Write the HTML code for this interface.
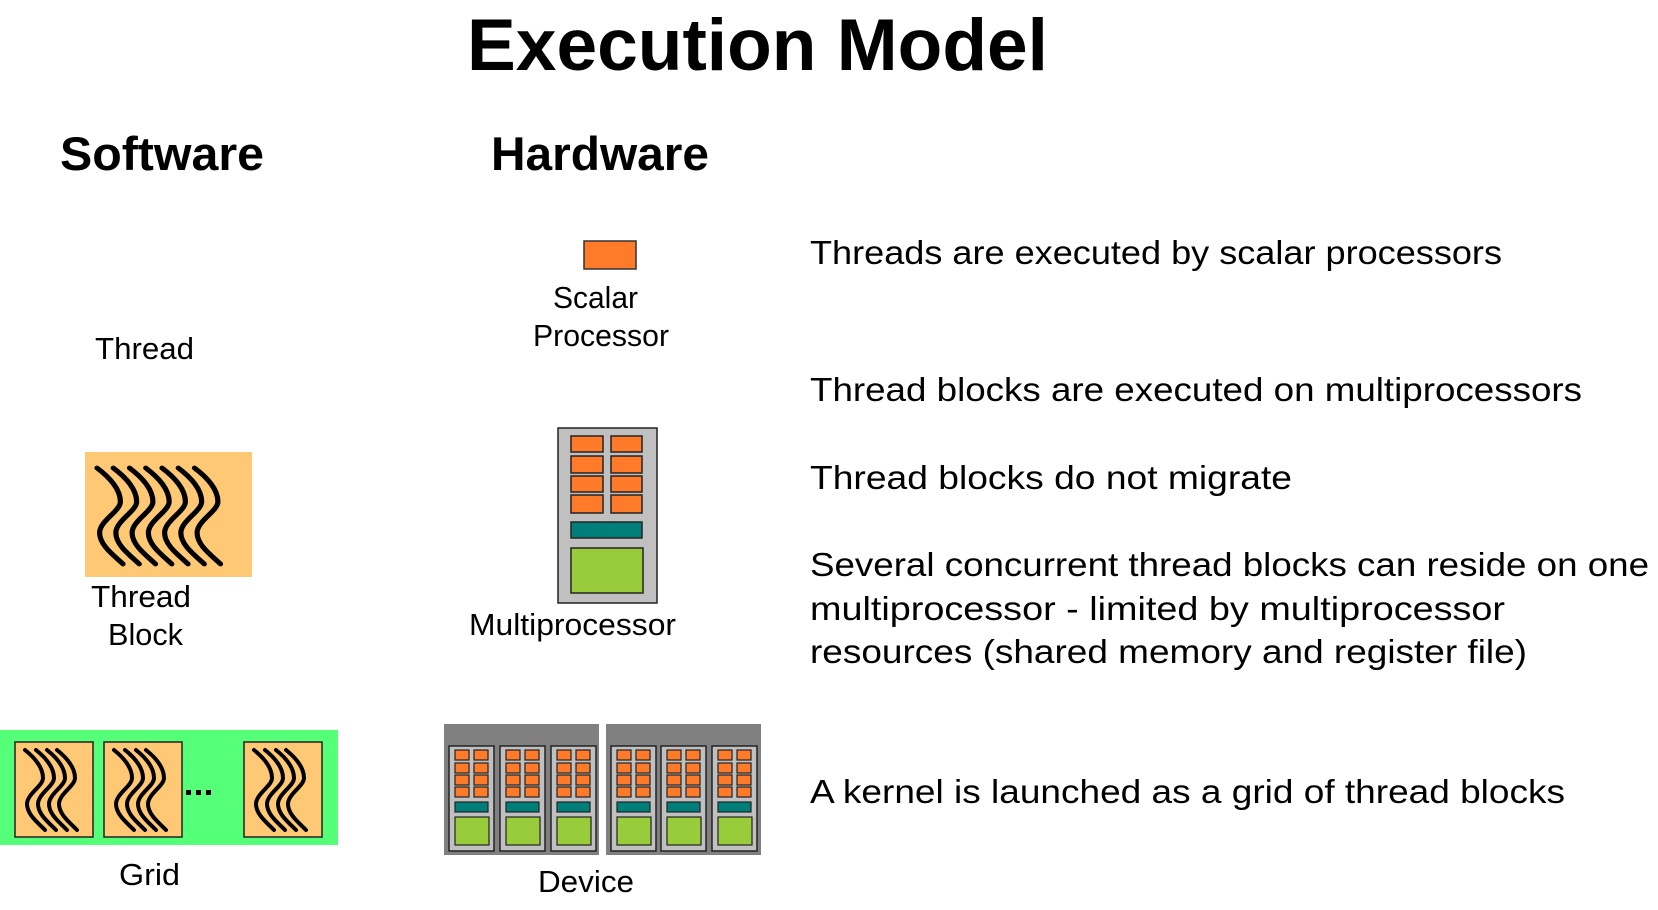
<!DOCTYPE html>
<html><head><meta charset="utf-8"><style>
html,body{margin:0;padding:0;background:#fff;}
svg{display:block;}
text{font-family:"Liberation Sans",sans-serif;fill:#000;}
.b{font-size:33px;}
.l{font-size:31px;}
</style></head><body>
<svg width="1658" height="910" viewBox="0 0 1658 910" xmlns="http://www.w3.org/2000/svg">
<defs>
<path id="w" d="M0,0 C10,8 18,18 18,28 C18,36 2,44 2,54 C2,64 12,72 20,80" fill="none" stroke="#000" stroke-width="4" stroke-linecap="round"/>
<g id="mp">
<rect x="0" y="0" width="45" height="105" fill="#c0c0c0" stroke="#222" stroke-width="1.5"/>
<g fill="#ff7b2a" stroke="#222" stroke-width="1.2">
<rect x="6" y="4" width="14" height="10"/><rect x="25" y="4" width="14" height="10"/>
<rect x="6" y="17" width="14" height="10"/><rect x="25" y="17" width="14" height="10"/>
<rect x="6" y="29" width="14" height="10"/><rect x="25" y="29" width="14" height="10"/>
<rect x="6" y="41" width="14" height="10"/><rect x="25" y="41" width="14" height="10"/>
</g>
<rect x="6" y="56" width="33" height="10" fill="#007f7a" stroke="#222" stroke-width="1.2"/>
<rect x="6" y="71" width="34" height="28" fill="#99cc3b" stroke="#222" stroke-width="1.2"/>
</g>
<g id="gb">
<rect x="0" y="0" width="78" height="95" fill="#ffc875" stroke="#222" stroke-width="1.5"/>
<use href="#w" x="10" y="8"/><use href="#w" x="21" y="8"/><use href="#w" x="32" y="8"/><use href="#w" x="42" y="8"/>
</g>
</defs>
<g transform="translate(-4,-2)">
<text x="471" y="72" font-size="73" font-weight="bold" textLength="581" lengthAdjust="spacingAndGlyphs">Execution Model</text>
<text x="64" y="172" font-size="47" font-weight="bold" textLength="204" lengthAdjust="spacingAndGlyphs">Software</text>
<text x="495" y="172" font-size="47" font-weight="bold" textLength="218" lengthAdjust="spacingAndGlyphs">Hardware</text>

<text class="b" x="814" y="266" textLength="692" lengthAdjust="spacingAndGlyphs">Threads are executed by scalar processors</text>
<text class="b" x="814" y="403" textLength="772" lengthAdjust="spacingAndGlyphs">Thread blocks are executed on multiprocessors</text>
<text class="b" x="814" y="491" textLength="482" lengthAdjust="spacingAndGlyphs">Thread blocks do not migrate</text>
<text class="b" x="814" y="578" textLength="839" lengthAdjust="spacingAndGlyphs">Several concurrent thread blocks can reside on one</text>
<text class="b" x="814" y="622" textLength="695" lengthAdjust="spacingAndGlyphs">multiprocessor - limited by multiprocessor</text>
<text class="b" x="814" y="665" textLength="717" lengthAdjust="spacingAndGlyphs">resources (shared memory and register file)</text>
<text class="b" x="814" y="805" textLength="755" lengthAdjust="spacingAndGlyphs">A kernel is launched as a grid of thread blocks</text>

<text class="l" x="99" y="361" textLength="99" lengthAdjust="spacingAndGlyphs">Thread</text>
<text class="l" x="557" y="310" textLength="85" lengthAdjust="spacingAndGlyphs">Scalar</text>
<text class="l" x="537" y="348" textLength="136" lengthAdjust="spacingAndGlyphs">Processor</text>
<text class="l" x="95" y="609" textLength="100" lengthAdjust="spacingAndGlyphs">Thread</text>
<text class="l" x="112" y="647" textLength="75" lengthAdjust="spacingAndGlyphs">Block</text>
<text class="l" x="473" y="637" textLength="207" lengthAdjust="spacingAndGlyphs">Multiprocessor</text>
<text class="l" x="123" y="887" textLength="61" lengthAdjust="spacingAndGlyphs">Grid</text>
<text class="l" x="542" y="894" textLength="96" lengthAdjust="spacingAndGlyphs">Device</text>
</g>

<rect x="584" y="241" width="52" height="28" fill="#ff7b2a" stroke="#333" stroke-width="1.5"/>

<rect x="85" y="452" width="167" height="125" fill="#ffc875"/>
<g transform="translate(97,468) scale(1.3,1.2)">
<use href="#w" x="0" y="0"/><use href="#w" x="12.5" y="0"/><use href="#w" x="25" y="0"/><use href="#w" x="37.5" y="0"/><use href="#w" x="50" y="0"/><use href="#w" x="62.5" y="0"/><use href="#w" x="75" y="0"/>
</g>

<rect x="558" y="428" width="99" height="175" fill="#c0c0c0" stroke="#222" stroke-width="1.5"/>
<g fill="#ff7b2a" stroke="#222" stroke-width="1.5">
<rect x="571" y="436" width="32" height="16"/><rect x="611" y="436" width="31" height="16"/>
<rect x="571" y="456" width="32" height="17"/><rect x="611" y="456" width="31" height="17"/>
<rect x="571" y="476" width="32" height="16"/><rect x="611" y="476" width="31" height="16"/>
<rect x="571" y="495" width="32" height="18"/><rect x="611" y="495" width="31" height="18"/>
</g>
<rect x="571" y="522" width="71" height="16" fill="#007f7a" stroke="#222" stroke-width="1.5"/>
<rect x="571" y="548" width="72" height="45" fill="#99cc3b" stroke="#222" stroke-width="1.5"/>

<rect x="0" y="730" width="338" height="115" fill="#55ff77"/>
<use href="#gb" x="15" y="742"/>
<use href="#gb" x="104" y="742"/>
<use href="#gb" x="244" y="742"/>
<g fill="#000"><rect x="186" y="790" width="5" height="5"/><rect x="196" y="790" width="5" height="5"/><rect x="206" y="790" width="5" height="5"/></g>

<rect x="444" y="724" width="155" height="131" fill="#808080"/>
<rect x="606" y="724" width="155" height="131" fill="#808080"/>
<use href="#mp" x="449" y="746"/><use href="#mp" x="500" y="746"/><use href="#mp" x="551" y="746"/>
<use href="#mp" x="611" y="746"/><use href="#mp" x="661" y="746"/><use href="#mp" x="712" y="746"/>
</svg>
</body></html>
